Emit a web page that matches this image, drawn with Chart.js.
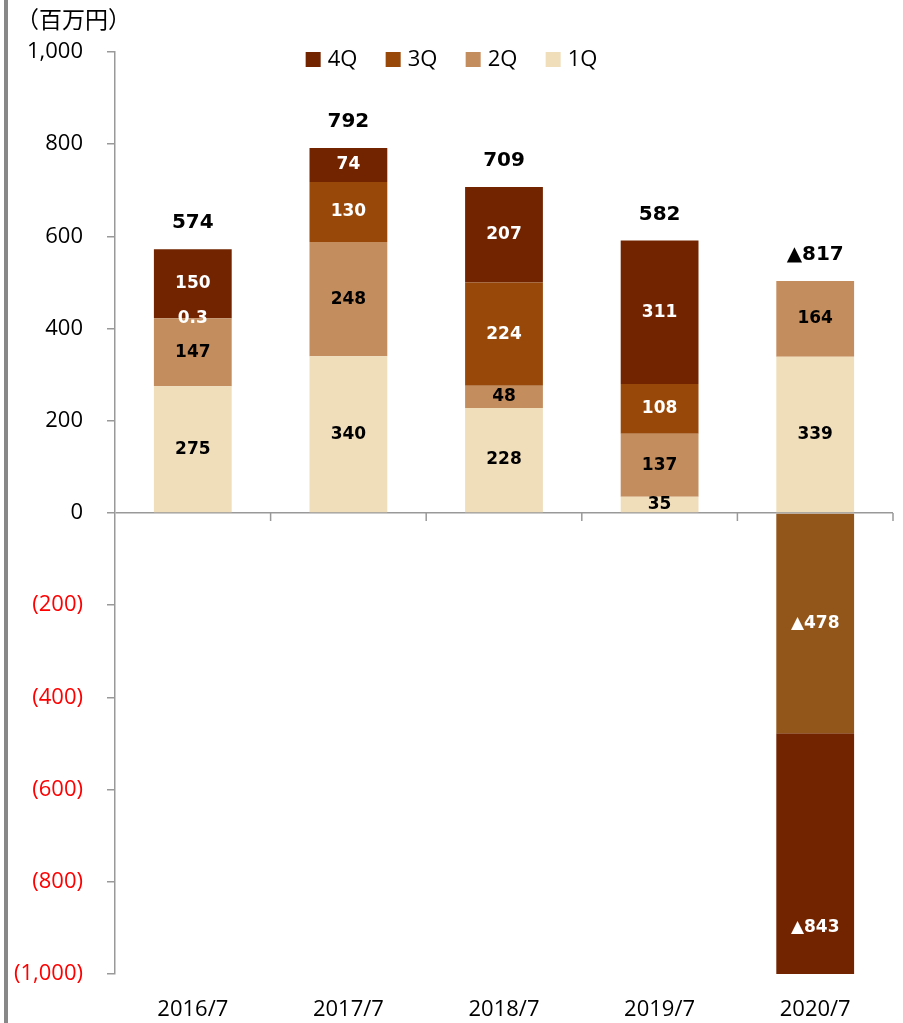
<!DOCTYPE html>
<html lang="ja">
<head>
<meta charset="UTF-8">
<title>四半期別 利益推移</title>
<script src="https://cdn.jsdelivr.net/npm/chart.js"></script>
<style>
  body { margin: 0; background: #fff; }
  .chart-container { position: relative; width: 903px; height: 1023px; }
</style>
</head>
<body>
<div class="chart-container"><canvas id="myChart"></canvas></div>
<script>
// 決算期ごとの四半期実績（百万円）
const categories = ['2016/7', '2017/7', '2018/7', '2019/7', '2020/7'];
const q1 = [275, 340, 228, 35, 339];
const q2 = [147, 248, 48, 137, 164];
const q3 = [0.3, 130, 224, 108, -478];
const q4 = [150, 74, 207, 311, -843];
const totals = [574, 792, 709, 582, -817];
const seriesNames = ['1Q', '2Q', '3Q', '4Q'];

const colors = {
  q1: '#F0DEBB',
  q2: '#C48D5E',
  q3: '#984808',
  q3neg: '#93561A',
  q4: '#722400'
};
const labelColors = ['#000', '#000', '#fff', '#fff'];

// マイナスは▲で表示
function fmtLabel(v) {
  return v < 0 ? '\u25B2' + Math.abs(v) : String(v);
}

const datasets = [
  { label: seriesNames[0], data: q1, backgroundColor: colors.q1 },
  { label: seriesNames[1], data: q2, backgroundColor: colors.q2 },
  { label: seriesNames[2], data: q3, backgroundColor: q3.map(v => v < 0 ? colors.q3neg : colors.q3) },
  { label: seriesNames[3], data: q4, backgroundColor: colors.q4 }
].map(ds => Object.assign(ds, { clip: 0, borderWidth: 0, barPercentage: 0.5, categoryPercentage: 1 }));

const legendColors = [colors.q1, colors.q2, colors.q3, colors.q4];

const decorations = {
  id: 'decorations',
  beforeDraw(chart) {
    const ctx = chart.ctx;
    ctx.save();
    ctx.fillStyle = '#888';
    ctx.fillRect(4, 0, 4, chart.height);
    ctx.restore();
  },
  afterDatasetsDraw(chart) {
    const { ctx, scales: { x, y } } = chart;
    ctx.save();

    // 0ラインの区切り目盛
    ctx.strokeStyle = '#999';
    ctx.lineWidth = 1.5;
    const y0 = y.getPixelForValue(0);
    for (let i = 0; i < categories.length; i++) {
      const bx = (x.getPixelForValue(i) + x.getPixelForValue(i + 1)) / 2;
      ctx.beginPath();
      ctx.moveTo(bx, y0);
      ctx.lineTo(bx, y0 + 8);
      ctx.stroke();
    }

    // 各四半期の値
    ctx.textAlign = 'center';
    ctx.textBaseline = 'middle';
    ctx.font = 'bold 17px "DejaVu Sans"';
    chart.data.datasets.forEach((ds, di) => {
      const meta = chart.getDatasetMeta(di);
      meta.data.forEach((bar, i) => {
        ctx.fillStyle = labelColors[di];
        ctx.fillText(fmtLabel(ds.data[i]), bar.x, (bar.y + bar.base) / 2);
      });
    });

    // 通期合計
    ctx.font = 'bold 20px "DejaVu Sans"';
    ctx.fillStyle = '#000';
    totals.forEach((t, i) => {
      const top = chart.data.datasets.reduce((s, ds) => s + Math.max(ds.data[i], 0), 0);
      ctx.fillText(fmtLabel(t), x.getPixelForValue(i), y.getPixelForValue(top) - 26);
    });

    // 単位
    ctx.textAlign = 'left';
    ctx.font = '23px "Noto Sans CJK JP"';
    ctx.fillText('（百万円）', 16, 19);

    // 凡例（4Q→1Q）
    ctx.font = '22px "Open Sans"';
    const order = [3, 2, 1, 0];
    const step = 80;
    const lastW = 22 + ctx.measureText(seriesNames[0]).width;
    const startX = chart.width / 2 - (step * 3 + lastW) / 2;
    order.forEach((k, n) => {
      const lx = startX + n * step;
      ctx.fillStyle = legendColors[k];
      ctx.fillRect(lx, 52, 15, 15);
      ctx.fillStyle = '#000';
      ctx.fillText(seriesNames[k], lx + 22, 60);
    });

    ctx.restore();
  }
};

const ctx = document.getElementById('myChart').getContext('2d');
new Chart(ctx, {
  type: 'bar',
  data: { labels: categories, datasets: datasets },
  options: {
    responsive: true,
    maintainAspectRatio: false,
    animation: false,
    layout: { padding: { left: 8, right: 10, top: 52, bottom: 0 } },
    plugins: {
      legend: { display: false },
      tooltip: { enabled: false }
    },
    scales: {
      x: {
        stacked: true,
        afterFit(scale) { scale.height = 49; },
        grid: { display: false },
        border: { display: false },
        ticks: { color: '#000', padding: 15, font: { family: 'Open Sans', size: 22 } }
      },
      y: {
        stacked: true,
        min: -1000,
        max: 1000,
        afterFit(scale) { scale.width = 107; },
        border: { color: '#999', width: 1.5 },
        grid: {
          color: c => (c.tick && c.tick.value === 0) ? '#999' : 'rgba(0,0,0,0)',
          tickColor: '#999',
          tickLength: 8,
          lineWidth: 1.5
        },
        ticks: {
          stepSize: 200,
          padding: 24,
          color: c => c.tick.value < 0 ? '#FF0000' : '#000',
          font: { family: 'Open Sans', size: 22 },
          callback: v => v < 0 ? '(' + Math.abs(v).toLocaleString('en-US') + ')' : v.toLocaleString('en-US')
        }
      }
    }
  },
  plugins: [decorations]
});
</script>
</body>
</html>
